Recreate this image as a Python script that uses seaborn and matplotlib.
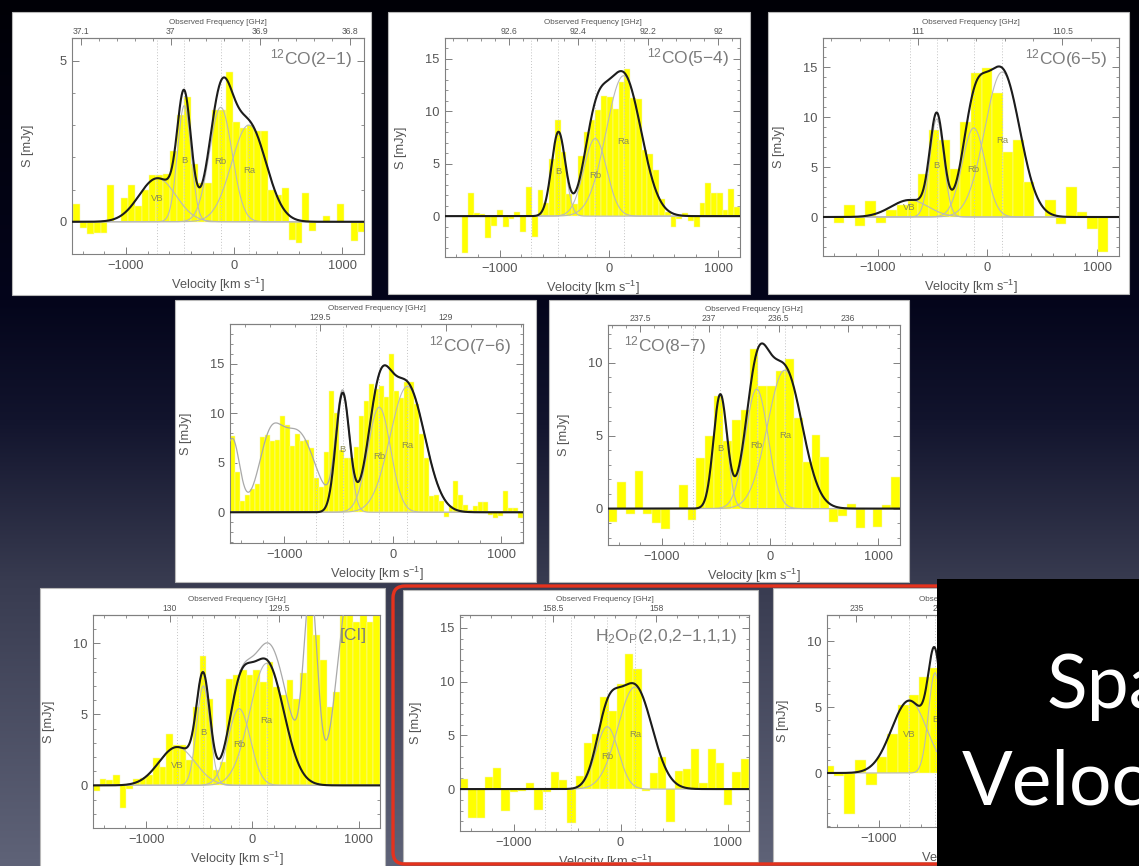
import numpy as np
import pandas as pd
import matplotlib
matplotlib.use("Agg")
import matplotlib.pyplot as plt
import seaborn as sns
from matplotlib.patches import Rectangle, FancyBboxPatch
from matplotlib.ticker import MultipleLocator, AutoMinorLocator
from matplotlib.transforms import Bbox, TransformedBbox

# ---------------- data ----------------
comp_names = ["VB", "B", "Rb", "Ra"]
comp_centers = [-710, -462, -125, 135]      # km/s
comp_sigmas = [170, 63, 105, 160]           # km/s

titles = ["$^{12}$CO(2\u22121)", "$^{12}$CO(5\u22124)", "$^{12}$CO(6\u22125)",
          "$^{12}$CO(7\u22126)", "$^{12}$CO(8\u22127)", "[CI]",
          "H$_2$O$_\\mathrm{P}$(2,0,2\u22121,1,1)", ""]

# spectra (mJy), channel start velocity and width
co21_vals = [0.55, -0.2, -0.37, -0.35, -0.35, 1.15, 0.0, 0.73, 1.13, 0.48, 1.0, 1.44, 1.44, 1.49,
             2.2, 3.32, 3.86, 1.79, 1.2, 1.2, 3.47, 3.47, 4.63, 3.1, 2.9, 3.0, 2.8, 2.8, 1.0, 0.84,
             1.04, -0.56, -0.66, 0.9, -0.3, 0.0, 0.19, 0.0, 0.56, 0.0, -0.6, -0.33]
co54_vals = [0, 0, 0, -3.5, 2.2, 0.3, 0.2, -2.1, -0.9, 0.6, -1.05, -0.25, 0.4, -1.5, 2.8, -2.0,
             2.5, 1.25, 5.5, 9.2, 6.1, 2.1, 1.2, 5.7, 8.0, 9.2, 10.1, 11.5, 11.4, 10.2, 12.8, 14.0,
             11.3, 11.2, 6.35, 5.9, 4.4, 1.65, 0.4, -1.05, -0.25, 0.3, -0.5, -1.0, 1.25, 3.2, 2.2,
             2.2, 0.55, 2.6, 0.9]
co65_vals = [0, -0.55, 1.2, -0.9, 1.6, -0.55, 0.7, 1.2, 1.6, 4.3, 8.7, 7.7, 4.8, 9.5, 14.4, 14.9,
             12.4, 6.5, 7.7, 3.5, 0.0, 1.7, -0.67, 3.0, 0.5, -1.2, -3.5, 0.0]
co76_vals = [7.7, 4.1, 1.15, 1.75, 2.3, 2.9, 7.6, 7.8, 7.2, 7.3, 9.7, 8.85, 6.65, 7.9, 7.2, 7.3,
             6.5, 3.45, 2.6, 6.1, 12.2, 10.0, 6.3, 5.5, 5.5, 6.55, 9.7, 11.2, 12.9, 12.4, 12.7,
             11.6, 16.0, 12.2, 11.5, 13.1, 13.1, 10.9, 7.9, 5.5, 1.6, 1.75, 1.1, -0.5, 0.6, 3.2,
             1.7, 0.75, 0.25, 0.6, 1.0, 1.0, -0.27, -0.6, -0.35, 2.1, 0.4, 0.45, -0.6]
co87_vals = [-0.95, 1.83, -0.36, 2.6, -0.36, -1.0, -1.43, 0.0, 1.6, -0.8, 3.45, 5.0, 7.74, 4.64,
             6.07, 6.8, 10.95, 8.4, 8.4, 9.45, 10.24, 6.2, 3.17, 5.05, 3.57, -0.9, -0.48, 0.31,
             -1.3, 0.0, -1.26, 0.24, 2.2]
ci_vals = [-0.42, 0.42, 0.35, 0.75, -1.6, -0.28, 0.42, 0.55, 0.75, 1.93, 1.3, 3.65, 2.87, 2.87,
           1.8, 5.5, 9.1, 6.07, 1.06, 1.65, 7.5, 7.8, 8.1, 7.8, 8.1, 7.3, 8.7, 6.9, 6.35, 7.4, 6.1,
           7.9, 12.5, 10.6, 8.8, 5.5, 6.6, 12.5, 12.5, 11.5, 12.5, 11.5, 12.5]
h2o_vals = [0.93, -2.67, -2.73, 1.09, 2.0, -2.0, -0.3, -0.2, 0.6, -1.9, -0.3, 1.6, 0.8, -3.2, 1.2,
            4.3, 5.1, 8.6, 7.3, 9.8, 12.6, 11.2, -0.2, 1.5, 3.0, -3.1, 1.7, 1.9, 3.7, 0.6, 3.7,
            2.4, -1.5, 1.6, 2.8]
p8_vals = [0.5, -0.2, -3.1, 1.0, -0.93, 1.2, 3.0, 5.2, 5.9, 7.3, 8.0]

chan_start = [-1494, -1500, -1500, -1500, -1500, -1500, -1500, -1539]
chan_width = [64.4, 2700 / 51, 2700 / 28, 2700 / 59, 2700 / 33, 2700 / 43, 2700 / 35, 103]

# Gaussian fit amplitudes (VB, B, Rb, Ra)
co21_amp = [1.35, 3.6, 3.55, 3.0]
co54_amp = [0, 8.0, 7.4, 13.4]
co65_amp = [1.7, 9.8, 8.9, 14.5]
co76_amp = [0, 12.0, 10.6, 12.7]
co87_amp = [0, 7.8, 8.2, 9.5]
ci_amp = [2.7, 7.0, 5.4, 8.6]
h2o_amp = [0, 0, 5.8, 9.5]
p8_amp = [5.5, 7.6, 0, 0]
# neighbouring line in the same band ([CI] next to CO(7-6) and vice versa)
co76_nb_amp, co76_nb_off = [4.0, 6.0, 6.3, 8.0], -1010
ci_nb_amp, ci_nb_off = [1.9, 13.0, 10.0, 12.7], 1010

# observed frequency axis: freq at v=0 (GHz), GHz per 1000 km/s, ticks
freq_center = [36.929, 92.313, 110.759, 129.212, 236.56, 129.622, 158.173, 234.27]
freq_per_kkms = [0.1208, 0.3125, 0.379, 0.432, 0.78, 0.4865, 0.517, 0.6]
freq_ticks = [[37.1, 37, 36.9, 36.8], [92.6, 92.4, 92.2, 92], [111, 110.5], [129.5, 129],
              [237.5, 237, 236.5, 236], [130, 129.5], [158.5, 158], [235, 234.5, 234]]
freq_labels = [["37.1", "37", "36.9", "36.8"], ["92.6", "92.4", "92.2", "92"], ["111", "110.5"],
               ["129.5", "129"], ["237.5", "237", "236.5", "236"], ["130", "129.5"],
               ["158.5", "158"], ["235", "234.5", "234"]]
y_limits = [(-1, 5.7), (-3.9, 17), (-3.9, 17.9), (-3.1, 19), (-2.5, 12.6), (-3, 12),
            (-3.9, 16.2), (-4.1, 12)]

spectra = [co21_vals, co54_vals, co65_vals, co76_vals, co87_vals, ci_vals, h2o_vals, p8_vals]
amps = [co21_amp, co54_amp, co65_amp, co76_amp, co87_amp, ci_amp, h2o_amp, p8_amp]
neighbours = [None, None, None, (co76_nb_amp, co76_nb_off), None, (ci_nb_amp, ci_nb_off), None, None]

slide_words = ["Spatial", "Velocity"]

# ---------------- layout (pixels) ----------------
W, H = 1139, 866
LAYOUT = [
    ((12, 12, 371, 295), (72, 38, 364, 254)),
    ((388, 12, 750, 294), (445, 38, 740, 257)),
    ((768, 12, 1129, 294), (823, 38, 1119, 256)),
    ((175, 300, 536, 582), (230, 324, 523, 543)),
    ((549, 300, 909, 582), (608, 325, 900, 545)),
    ((40, 588, 385, 870), (93, 615, 380, 828)),
    ((403, 590, 758, 862), (460, 615, 749, 831)),
    ((773, 588, 945, 862), (827, 615, 1108, 827)),
]
TITLE_POS = [(0.96, 0.905, "right"), (0.963, 0.91, "right"), (0.96, 0.905, "right"),
             (0.96, 0.90, "right"), (0.055, 0.905, "left"), (0.955, 0.906, "right"),
             (0.96, 0.90, "right"), (0.96, 0.90, "right")]


def frac(box):
    x0, y0, x1, y1 = box
    return [x0 / W, 1 - y1 / H, (x1 - x0) / W, (y1 - y0) / H]


sns.set_theme(style="ticks")
plt.rcParams['font.family'] = ['Liberation Sans', 'DejaVu Sans']
plt.rcParams['mathtext.fontset'] = 'custom'
plt.rcParams['mathtext.rm'] = 'Liberation Sans'
plt.rcParams['mathtext.it'] = 'Liberation Sans:italic'
plt.rcParams['mathtext.bf'] = 'Liberation Sans:bold'
plt.rcParams['axes.unicode_minus'] = True

fig = plt.figure(figsize=(W / 100, H / 100), dpi=100)

# background slide
bg = fig.add_axes([0, 0, 1, 1], zorder=-5)
ys = np.arange(H)
stops_y = [0, 300, 420, 580, 866]
stops_c = np.array([[0, 0, 6], [4, 5, 27], [18, 20, 45], [56, 59, 80], [95, 99, 120]]) / 255.0
grad = np.stack([np.interp(ys, stops_y, stops_c[:, k]) for k in range(3)], axis=-1)[:, None, :]
bg.imshow(grad, extent=(0, W, H, 0), aspect='auto', interpolation='bilinear')
for wbox, _ in LAYOUT:
    x0, y0, x1, y1 = wbox
    bg.add_patch(Rectangle((x0, y0), x1 - x0, y1 - y0, facecolor='white',
                           edgecolor='#b8b8b8', linewidth=0.8))
bg.add_patch(FancyBboxPatch((393, 586), 620, 278, boxstyle="round,pad=0,rounding_size=12",
                            facecolor='none', edgecolor='#e5321d', linewidth=2.4))
bg.set_xlim(0, W)
bg.set_ylim(H, 0)
bg.axis('off')

vgrid = np.linspace(-1500, 1200, 1351)


def gauss(v, a, c, s):
    return a * np.exp(-0.5 * ((v - c) / s) ** 2)


FRAME = '#808080'
TXT = '#555555'
TICK_FS = 9.3
LABEL_FS = 9.2

for i in range(8):
    wbox, abox = LAYOUT[i]
    ax = fig.add_axes(frac(abox), zorder=1)
    ax.set_facecolor('white')
    vals = np.asarray(spectra[i], dtype=float)
    edges = chan_start[i] + chan_width[i] * np.arange(len(vals) + 1)
    df = pd.DataFrame({"v": 0.5 * (edges[1:] + edges[:-1]), "S": vals})
    sns.histplot(data=df, x="v", weights="S", bins=list(edges), stat='count', element='bars',
                 color='#ffff00', alpha=1.0, edgecolor='#f4f4bc', linewidth=0.35, ax=ax)

    for c in comp_centers:
        ax.axvline(c, color='#c4c4c4', linestyle=(0, (1, 2)), linewidth=0.7, zorder=2)

    amp = amps[i]
    total = np.zeros_like(vgrid)
    for a, c, s in zip(amp, comp_centers, comp_sigmas):
        g = gauss(vgrid, a, c, s)
        total += g
        if a > 0:
            sns.lineplot(x=vgrid, y=g, color='#b9b9b9', linewidth=0.8, ax=ax,
                         estimator=None, sort=False, zorder=2.5)
    if neighbours[i] is not None:
        nb_amp, nb_off = neighbours[i]
        full = total.copy()
        for a, c, s in zip(nb_amp, comp_centers, comp_sigmas):
            full += gauss(vgrid, a, c + nb_off, s)
        sns.lineplot(x=vgrid, y=full, color='#a9a9a9', linewidth=0.9, ax=ax,
                     estimator=None, sort=False, zorder=2.6)
    sns.lineplot(x=vgrid, y=total, color='#1c1c1c', linewidth=1.5, ax=ax,
                 estimator=None, sort=False, zorder=3)

    for name, a, c in zip(comp_names, amp, comp_centers):
        if a > 0:
            ax.text(c, 0.53 * a, name, ha='center', va='center', fontsize=6.8,
                    color='#8c8c52', zorder=4)

    tx, ty, tha = TITLE_POS[i]
    if titles[i]:
        ax.text(tx, ty, titles[i], transform=ax.transAxes, ha=tha, va='center',
                fontsize=12.5, color='#7c7c7c', zorder=5)

    ax.set_xlim(-1500, 1200)
    ax.set_ylim(*y_limits[i])
    ax.xaxis.set_major_locator(MultipleLocator(1000))
    ax.xaxis.set_minor_locator(MultipleLocator(200))
    ax.yaxis.set_major_locator(MultipleLocator(5))
    ax.yaxis.set_minor_locator(MultipleLocator(1))
    ax.tick_params(which='both', direction='in', bottom=True, left=True, top=False, right=True,
                   colors=FRAME, labelcolor=TXT, labelsize=TICK_FS)
    ax.tick_params(which='major', length=5, width=0.7, pad=4)
    ax.tick_params(which='minor', length=2.5, width=0.6)
    for sp in ax.spines.values():
        sp.set_visible(True)
        sp.set_color(FRAME)
        sp.set_linewidth(0.8)

    aw = abox[2] - abox[0]
    ah = abox[3] - abox[1]
    ax.set_xlabel("Velocity [km s$^{-1}$]", fontsize=LABEL_FS, color=TXT)
    ax.set_ylabel("S [mJy]", fontsize=LABEL_FS, color=TXT)
    ax.xaxis.set_label_coords(0.5, -22.0 / ah)
    ax.yaxis.set_label_coords(-38.0 / aw, 0.5)

    fc, dfk = freq_center[i], freq_per_kkms[i]
    sec = ax.secondary_xaxis('top', functions=(lambda v, fc=fc, dfk=dfk: fc - np.asarray(v) * dfk / 1000.0,
                                               lambda f, fc=fc, dfk=dfk: (fc - np.asarray(f)) * 1000.0 / dfk))
    sec.set_xticks(freq_ticks[i], labels=freq_labels[i])
    sec.xaxis.set_minor_locator(AutoMinorLocator(5))
    sec.tick_params(which='both', direction='in', colors=FRAME, labelcolor=TXT, labelsize=6.2, pad=1.5)
    sec.tick_params(which='major', length=5, width=0.7)
    sec.tick_params(which='minor', length=2.5, width=0.6)
    sec.spines['top'].set_color(FRAME)
    sec.spines['top'].set_linewidth(0.8)
    sec.set_xlabel("Observed Frequency [GHz]", fontsize=5.8, color=TXT, labelpad=2)

    if i == 6:
        # in the slide this label is cut by the panel's lower edge
        lab = ax.xaxis.label
        clip = TransformedBbox(Bbox.from_extents(0, (H - 862) / H, 1, 1), fig.transFigure)
        lab.set_clip_box(clip)
        lab.set_clip_on(True)

# black title box of the slide
bx = fig.add_axes([937 / W, 0, (W - 937) / W, (H - 579) / H], zorder=6)
bx.set_facecolor('black')
bx.set_xticks([])
bx.set_yticks([])
for sp in bx.spines.values():
    sp.set_visible(False)
bx.text((1047 - 937) / (W - 937), (H - 708) / (H - 579), slide_words[0], transform=bx.transAxes,
        ha='left', va='baseline', fontsize=54, color='white', family='Lato', clip_on=True)
bx.text((962 - 937) / (W - 937), (H - 804) / (H - 579), slide_words[1], transform=bx.transAxes,
        ha='left', va='baseline', fontsize=54, color='white', family='Lato', clip_on=True)

fig.savefig('out.png', dpi=100)
